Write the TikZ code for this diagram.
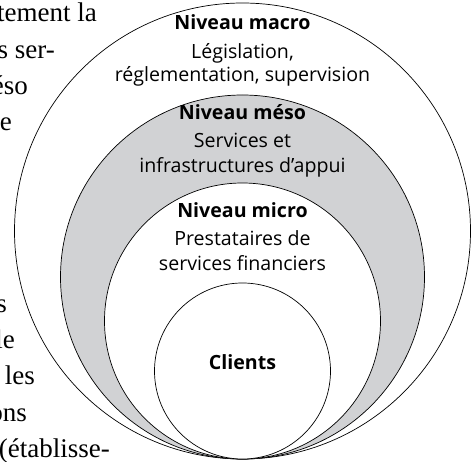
\documentclass[tikz,border=0pt]{standalone}
\usepackage{fontspec}
\setmainfont{Liberation Serif}
\setsansfont{Open Sans}
\definecolor{mesogray}{RGB}{209,210,212}
\tikzset{
  ring/.style={circle, draw, line width=0.7pt, inner sep=0pt, fill=white},
  lvl/.style={font=\sffamily\fontsize{19.6}{23}\selectfont, anchor=base, inner sep=0pt},
  lvlhead/.style={lvl, font=\sffamily\bfseries\fontsize{19.6}{23}\selectfont},
  body/.style={font=\fontsize{27}{36}\selectfont, anchor=base east, inner sep=0pt}
}
\begin{document}
\begin{tikzpicture}[x=1pt, y=-1pt]
  \useasboundingbox (0,0) rectangle (472,462);
  \clip (0,0) rectangle (472,462);
  % page text beside the figure
  \foreach \k/\xe/\txt in {0/97/tement la, 1/55/s ser-, 2/28/éso, 3/12/e, 8/7/s,
      9/15/le, 10/35/les, 11/27/ons, 12/110/{(établisse-}} {
    \node[body] (line\k) at (\xe, {22+36.3*\k}) {\txt};
  }
  % nested circles, all touching at the bottom
  \node[ring, minimum size=456] (macroC) at (242.5,231) {};
  \node[ring, fill=mesogray, minimum size=364] (mesoC) at (242.5,277) {};
  \node[ring, minimum size=276] (microC) at (242.5,321) {};
  \node[ring, minimum size=176] (clientsC) at (242.5,371) {};
  % labels
  \node[lvlhead] (macro) at (242.5,30) {Niveau macro};
  \node[lvl] (macroA) at (242.5,59) {Législation,};
  \node[lvl] (macroB) at (242.5,82) {réglementation, supervision};
  \node[lvlhead] (meso) at (242.5,120) {Niveau méso};
  \node[lvl] (mesoA) at (242.5,148) {Services et};
  \node[lvl] (mesoB) at (242.5,173) {infrastructures d’appui};
  \node[lvlhead] (micro) at (242.5,218) {Niveau micro};
  \node[lvl] (microA) at (242.5,246) {Prestataires de};
  \node[lvl] (microB) at (242.5,271) {services financiers};
  \node[lvlhead] (clients) at (242.5,370) {Clients};
\end{tikzpicture}
\end{document}
